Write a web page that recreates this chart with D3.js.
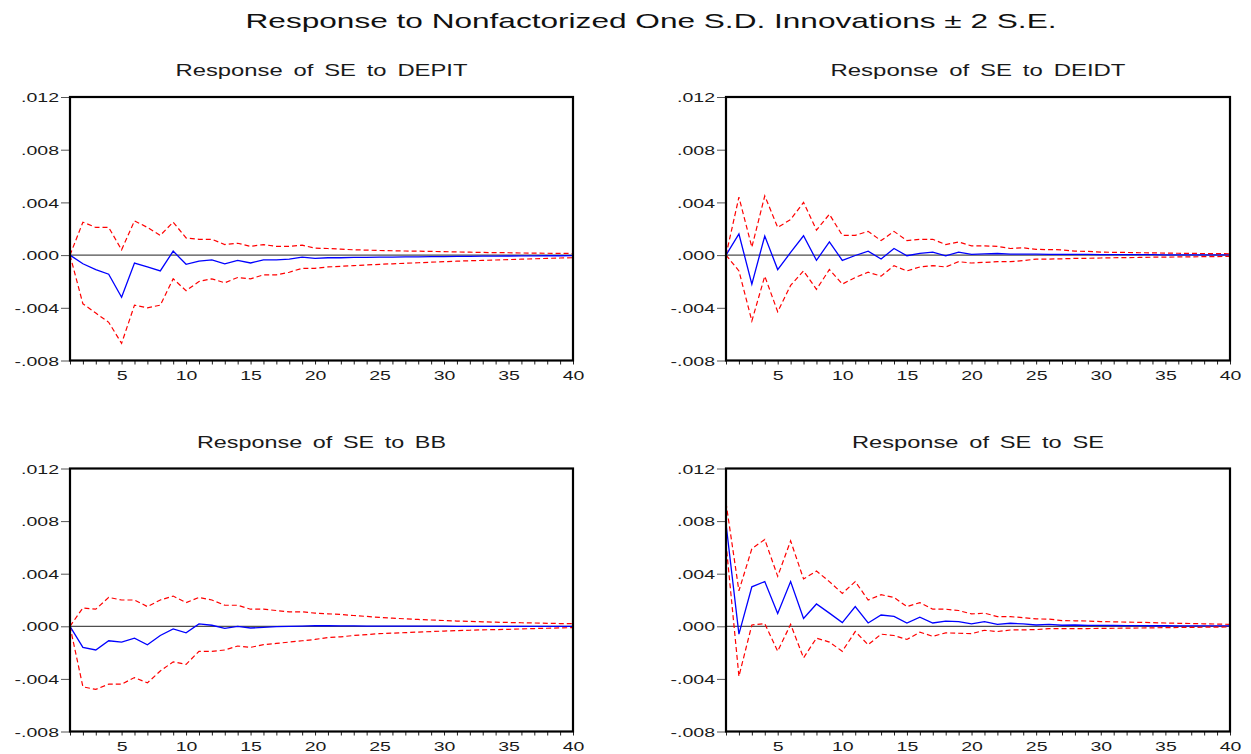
<!DOCTYPE html>
<html><head><meta charset="utf-8">
<script src="https://cdn.jsdelivr.net/npm/d3@7"></script>
<style>body{margin:0;background:#fff}svg{display:block;font-family:"Liberation Sans",Arial,sans-serif}</style>
</head><body><svg id="c" width="1251" height="754"></svg>
<script>
const periods = d3.range(1, 41);
const yTicks = [0.012, 0.008, 0.004, 0, -0.004, -0.008];
const yTickLabels = [".012", ".008", ".004", ".000", "-.004", "-.008"];
const xTickLabels = [5, 10, 15, 20, 25, 30, 35, 40];
const mainTitle = "Response to Nonfactorized One S.D. Innovations \u00B1 2 S.E.";
const panelTitles = ["Response of SE to DEPIT", "Response of SE to DEIDT", "Response of SE to BB", "Response of SE to SE"];

const depitResp = [0,-0.00066,-0.0011,-0.00145,-0.0032,-0.0006,-0.0009,-0.0012,0.0003,-0.0007,
 -0.00045,-0.00036,-0.00066,-0.0004,-0.0006,-0.00036,-0.00036,-0.0003,-0.00015,-0.00025,
 -0.0002,-0.0002,-0.00018,-0.00017,-0.00016,-0.00015,-0.00014,-0.00013,-0.00012,-0.00011,
 -0.0001,-0.00009,-0.00008,-0.00008,-0.00007,-0.00006,-0.00006,-0.00005,-0.00005,-0.00004];
const depitUpper = [0,0.0025,0.0021,0.0021,0.0004,0.0026,0.0021,0.0015,0.0025,0.0013,
 0.0012,0.0012,0.0008,0.0009,0.00066,0.0008,0.00066,0.00066,0.00075,0.00053,
 0.0005,0.00045,0.0004,0.00038,0.00035,0.00033,0.00031,0.0003,0.00028,0.00026,
 0.00024,0.00022,0.0002,0.00019,0.00018,0.00016,0.00015,0.00014,0.00013,0.00012];
const depitLower = [0,-0.0037,-0.0044,-0.0051,-0.0067,-0.0038,-0.004,-0.0038,-0.0018,-0.0027,
 -0.002,-0.0018,-0.0021,-0.0017,-0.0018,-0.0015,-0.0015,-0.0013,-0.001,-0.001,
 -0.0009,-0.00085,-0.0008,-0.00075,-0.0007,-0.00066,-0.00062,-0.00058,-0.00054,-0.0005,
 -0.00046,-0.00043,-0.0004,-0.00037,-0.00034,-0.00031,-0.00028,-0.00025,-0.00022,-0.0002];

const deidtResp = [0,0.0016,-0.0022,0.00145,-0.0011,0.0002,0.00147,-0.0004,0.001,-0.0004,
 -0.00003,0.0003,-0.0003,0.0005,-0.00005,0.00013,0.00023,-0.00005,0.00023,0.00005,
 0.0001,0.00012,0.00008,0.00008,0.00007,0.00006,0.00006,0.00005,0.00005,0.00004,
 0.00004,0.00003,0.00003,0.00003,0.00002,0.00002,0.00002,0.00002,0.00001,0.00001];
const deidtUpper = [0,0.0044,0.0006,0.0045,0.0021,0.0027,0.004,0.0019,0.0031,0.0015,
 0.0015,0.0018,0.0011,0.0018,0.0011,0.0012,0.0012,0.0008,0.001,0.0007,
 0.0007,0.00066,0.0005,0.00055,0.00043,0.00042,0.0004,0.0003,0.00028,0.00023,
 0.00021,0.0002,0.00018,0.00017,0.00015,0.00014,0.00013,0.00012,0.00011,0.0001];
const deidtLower = [0,-0.0012,-0.005,-0.0016,-0.0043,-0.0023,-0.0012,-0.0026,-0.0011,-0.0022,
 -0.0017,-0.0013,-0.0016,-0.0008,-0.0012,-0.0009,-0.0008,-0.0009,-0.0005,-0.0006,
 -0.00055,-0.0005,-0.0005,-0.00042,-0.0003,-0.0003,-0.00028,-0.00025,-0.00024,-0.00022,
 -0.0002,-0.00019,-0.00018,-0.00016,-0.00015,-0.00014,-0.00013,-0.00012,-0.00011,-0.0001];

const bbResp = [0,-0.0016,-0.0018,-0.0011,-0.0012,-0.0009,-0.0014,-0.0007,-0.0002,-0.0005,
 0.00018,0.00008,-0.00015,0,-0.00013,-0.00008,-0.00003,0,0.00002,0.00005,
 0.00004,0.00003,0.00003,0.00002,0.00002,0.00002,0.00001,0.00001,0.00001,0.00001,
 0,0,0,0,0,0,0,0,0,0];
const bbUpper = [0,0.0014,0.0013,0.0022,0.002,0.002,0.0015,0.002,0.0023,0.0018,
 0.0022,0.002,0.0016,0.0016,0.0013,0.0013,0.0012,0.0011,0.0011,0.001,
 0.00095,0.0009,0.00082,0.00075,0.00068,0.00062,0.00057,0.00052,0.00048,0.00044,
 0.0004,0.00037,0.00034,0.00031,0.00029,0.00027,0.00025,0.00023,0.00021,0.0002];
const bbLower = [0,-0.0046,-0.0048,-0.0044,-0.0044,-0.0039,-0.0043,-0.0034,-0.0027,-0.0029,
 -0.0019,-0.0019,-0.0018,-0.0015,-0.0016,-0.0014,-0.0013,-0.0012,-0.0011,-0.001,
 -0.00085,-0.0008,-0.0007,-0.00063,-0.00056,-0.00052,-0.00048,-0.00044,-0.0004,-0.00036,
 -0.00033,-0.0003,-0.00027,-0.00025,-0.00023,-0.0002,-0.00017,-0.00015,-0.00012,-0.0001];

const seResp = [0.0078,-0.0006,0.003,0.0034,0.00097,0.0034,0.0006,0.0017,0.001,0.00028,
 0.0015,0.00025,0.00086,0.00076,0.00025,0.0007,0.00025,0.0004,0.00035,0.00018,
 0.00035,0.00015,0.00023,0.00018,0.0001,0.00015,0.00008,0.0001,0.00007,0.00007,
 0.00006,0.00005,0.00005,0.00004,0.00004,0.00003,0.00003,0.00003,0.00003,0.00003];
const seUpper = [0.0094,0.0027,0.0059,0.0066,0.0038,0.0065,0.0036,0.0042,0.0034,0.0025,
 0.0034,0.002,0.0024,0.0022,0.0015,0.0018,0.0013,0.0013,0.0012,0.00094,
 0.001,0.00074,0.00073,0.00066,0.00056,0.00055,0.00043,0.00042,0.0004,0.00036,
 0.00034,0.00032,0.0003,0.00028,0.00025,0.00023,0.00021,0.00019,0.00017,0.00015];
const seLower = [0.0063,-0.0038,0.0001,0.0002,-0.0019,0.00015,-0.0024,-0.0009,-0.0012,-0.0019,
 -0.0004,-0.0014,-0.0006,-0.0007,-0.001,-0.00045,-0.00076,-0.0005,-0.00053,-0.00056,
 -0.0003,-0.0004,-0.00028,-0.00027,-0.00025,-0.00018,-0.00018,-0.00017,-0.00017,-0.00016,
 -0.00015,-0.00014,-0.00013,-0.00012,-0.0001,-0.00009,-0.00008,-0.00007,-0.00006,-0.00005];

const panelsData = [
  {title: panelTitles[0], resp: depitResp, up: depitUpper, lo: depitLower},
  {title: panelTitles[1], resp: deidtResp, up: deidtUpper, lo: deidtLower},
  {title: panelTitles[2], resp: bbResp, up: bbUpper, lo: bbLower},
  {title: panelTitles[3], resp: seResp, up: seUpper, lo: seLower}
];

const svg = d3.select("#c");
const STRETCH = 1.5;
function stretch(sel, target, mode) {
  sel.each(function(){
    const w = this.getComputedTextLength();
    d3.select(this).attr("textLength", target || w * STRETCH).attr("lengthAdjust", mode || "spacingAndGlyphs");
  });
}

svg.append("text").attr("x", 651).attr("y", 28).attr("text-anchor", "middle")
  .attr("font-size", 21).attr("fill", "#111").text(mainTitle).call(stretch, 811);

const layouts = [
  {x0: 70, x1: 573, y0: 97, y1: 360.5, tw: 292},
  {x0: 726, x1: 1230, y0: 97, y1: 360.5, tw: 295},
  {x0: 70, x1: 573, y0: 468.5, y1: 731.5, tw: 249},
  {x0: 726, x1: 1230, y0: 468.5, y1: 731.5, tw: 252}
];

panelsData.forEach((p, i) => {
  const L = layouts[i];
  const x = d3.scaleLinear().domain([1, 40]).range([L.x0, L.x1]);
  const y = d3.scaleLinear().domain([-0.008, 0.012]).range([L.y1, L.y0]);
  const g = svg.append("g");

  g.append("text").attr("x", (L.x0 + L.x1) / 2).attr("y", L.y0 - 21).attr("text-anchor", "middle")
    .attr("font-size", 17).attr("fill", "#1a1a1a").attr("word-spacing", 3).text(p.title).call(stretch, L.tw);

  // y axis
  const ya = d3.axisLeft(y).tickValues(yTicks).tickSize(9).tickPadding(2)
    .tickFormat((d, k) => yTickLabels[k]);
  const yg = g.append("g").attr("transform", `translate(${L.x0},0)`).call(ya);
  yg.select(".domain").remove();
  yg.selectAll("line").attr("stroke", "#555").attr("stroke-width", 1);
  yg.selectAll("text").attr("font-size", 13).attr("fill", "#1a1a1a")
    .attr("font-family", "'Liberation Sans',Arial,sans-serif").attr("dy", "0.36em").call(stretch);

  // x axis minor ticks and labels
  const xa = d3.axisBottom(x).tickValues(periods).tickSize(4).tickPadding(6)
    .tickFormat(d => xTickLabels.includes(d) ? String(d) : "");
  const xg = g.append("g").attr("transform", `translate(0,${L.y1})`).call(xa);
  xg.select(".domain").remove();
  xg.selectAll("line").attr("stroke", "#222").attr("stroke-width", 1);
  xg.selectAll("text").attr("font-size", 13).attr("fill", "#1a1a1a")
    .attr("font-family", "'Liberation Sans',Arial,sans-serif").call(stretch);

  // zero line
  g.append("line").attr("x1", L.x0).attr("x2", L.x1).attr("y1", y(0)).attr("y2", y(0))
    .attr("stroke", "#222").attr("stroke-width", 1);

  const line = d3.line().x((d, k) => x(periods[k])).y(d => y(d));
  g.append("path").attr("d", line(p.resp)).attr("fill", "none").attr("stroke", "#0000ff").attr("stroke-width", 1.3);
  [p.up, p.lo].forEach(arr => {
    g.append("path").attr("d", line(arr)).attr("fill", "none").attr("stroke", "#ff0000")
      .attr("stroke-width", 1.2).attr("stroke-dasharray", "5,3");
  });

  // frame
  g.append("rect").attr("x", L.x0).attr("y", L.y0).attr("width", L.x1 - L.x0).attr("height", L.y1 - L.y0)
    .attr("fill", "none").attr("stroke", "#000").attr("stroke-width", 2.2);
});
</script></body></html>
